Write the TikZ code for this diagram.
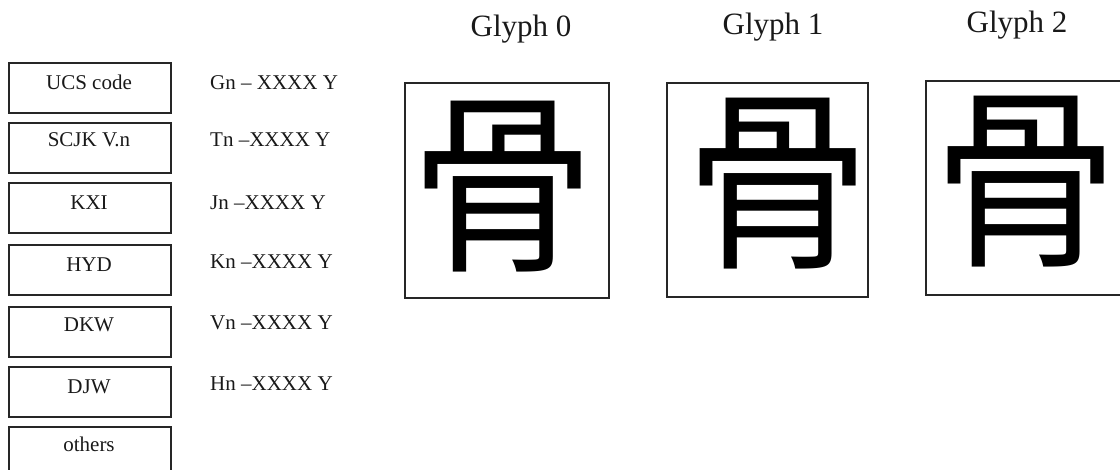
\documentclass[tikz,border=0pt]{standalone}
\usepackage{fontspec}
\setmainfont{Liberation Serif}
\newfontfamily\cjksc{Noto Sans CJK SC}
\newfontfamily\cjkjp{Noto Sans CJK JP}
\tikzset{
  lbox/.style={draw=black!85, line width=1.6pt, minimum width=162pt, minimum height=50pt, inner sep=0pt},
  ltxt/.style={font=\fontsize{21}{21}\selectfont, anchor=base, inner sep=0pt, text=black!90},
  rtxt/.style={font=\fontsize{21}{21}\selectfont, anchor=base west, inner sep=0pt, text=black!90},
  gbox/.style={draw=black!85, line width=1.8pt, inner sep=0pt},
  gtitle/.style={font=\fontsize{31}{31}\selectfont, anchor=base, inner sep=0pt, text=black!90},
  gchar/.style={font=\fontsize{195}{195}\selectfont, anchor=base, inner sep=0pt, xscale=0.95}
}
\begin{document}
\begin{tikzpicture}[x=1pt,y=-1pt]
\useasboundingbox (0,0) rectangle (1120,470);
% left boxes
\node[lbox] (b1) at (90,88) {};
\node[lbox] (b2) at (90,148) {};
\node[lbox] (b3) at (90,208) {};
\node[lbox] (b4) at (90,270) {};
\node[lbox] (b5) at (90,332) {};
\node[lbox] (b6) at (90,392) {};
\node[lbox] (b7) at (90,452) {};
\node[ltxt] (t1) at (89,90) {UCS code};
\node[ltxt] (t2) at (89,147) {SCJK V.n};
\node[ltxt] (t3) at (89,210) {KXI};
\node[ltxt] (t4) at (89,272) {HYD};
\node[ltxt] (t5) at (89,332) {DKW};
\node[ltxt] (t6) at (89,394) {DJW};
\node[ltxt] (t7) at (89,452) {others};
% right labels
\node[rtxt] (r1) at (210,90) {Gn – XXXX Y};
\node[rtxt] (r2) at (210,147) {Tn –XXXX Y};
\node[rtxt] (r3) at (210,210) {Jn –XXXX Y};
\node[rtxt] (r4) at (210,269) {Kn –XXXX Y};
\node[rtxt] (r5) at (210,330) {Vn –XXXX Y};
\node[rtxt] (r6) at (210,391) {Hn –XXXX Y};
% glyph titles
\node[gtitle] (h0) at (521,37) {Glyph 0};
\node[gtitle] (h1) at (773,35) {Glyph 1};
\node[gtitle] (h2) at (1017,33) {Glyph 2};
% glyph boxes
\node[gbox, minimum width=204pt, minimum height=215pt] (g0) at (507,190.5) {};
\node[gbox, minimum width=201pt, minimum height=214pt] (g1) at (767.5,190) {};
\node[gbox, minimum width=204pt, minimum height=214pt] (g2) at (1028,188) {};
% glyphs
\node[gchar] (c0) at (503,257) {\cjkjp 骨};
\node[gchar] (c1) at (778,254) {\cjksc 骨};
\node[gchar] (c2) at (1026,252) {\cjksc 骨};
\end{tikzpicture}
\end{document}
